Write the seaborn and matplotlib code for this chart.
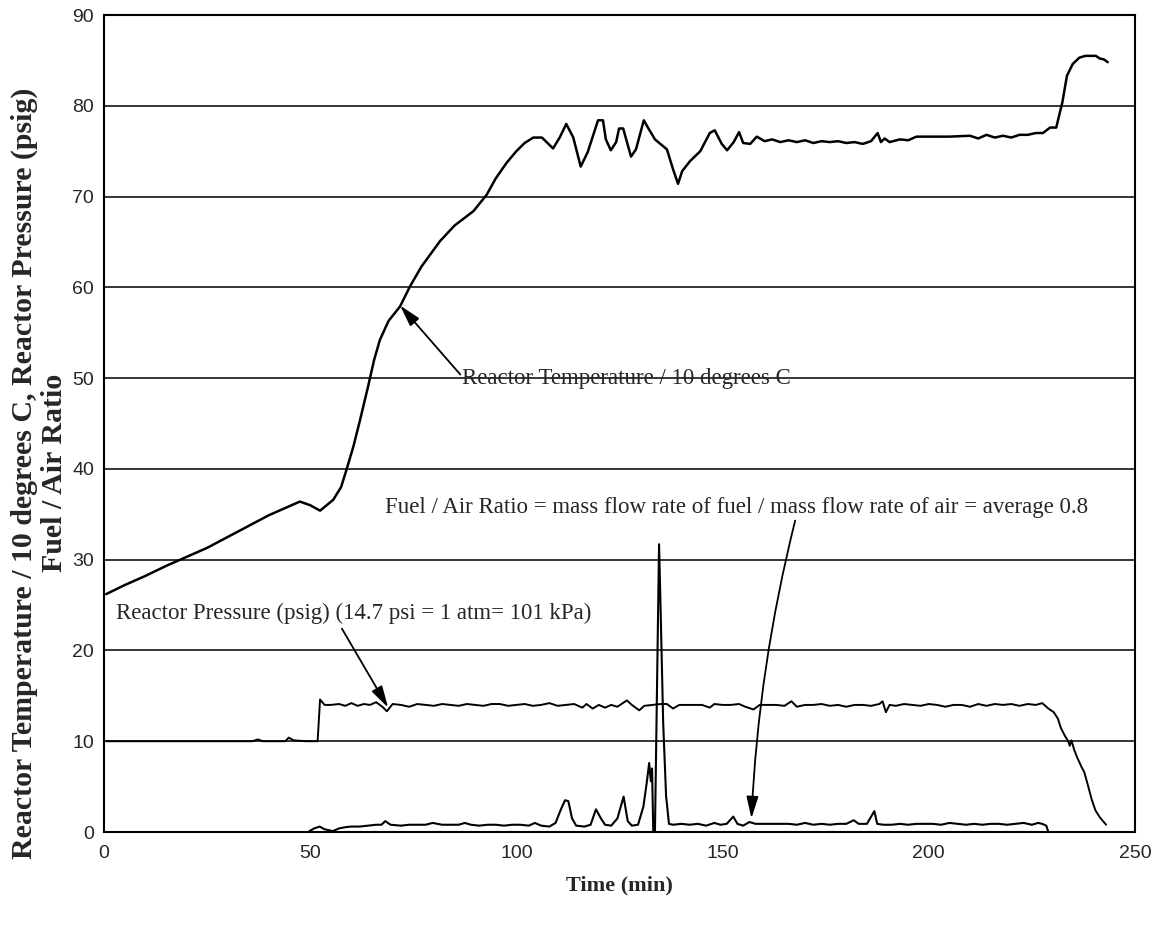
"""Reactor temperature, pressure and fuel/air ratio vs time."""

import matplotlib

matplotlib.use("Agg")
import matplotlib.pyplot as plt
import pandas as pd
import seaborn as sns

# --- data --------------------------------------------------------------------
temp_time = [
    0.5, 5, 10, 15, 20, 25, 30, 35, 40, 44, 47.5, 50, 52.4, 55.6, 57.5, 58.8,
    60.5, 62.1, 64, 65.5, 66.9, 69, 71.8, 74.2, 77, 81.5, 85, 89.6, 92.8, 95,
    97.6, 100, 102, 104.1, 106.2, 108.9, 110.5, 112.1, 113.8, 115.6, 117.3,
    119.8, 121.0, 121.7, 122.9, 124.2, 124.9, 125.9, 127.8, 129.0, 130.9,
    131.9, 133.6, 136.5, 138, 139.2, 140.2, 142.1, 144.6, 146.9, 148.1, 149.8,
    151.1, 152.7, 154.0, 155.0, 156.7, 158.3, 160.2, 162, 164, 166, 168, 170,
    172, 174, 176, 178, 180, 182, 184, 186, 187.6, 188.4, 189.3, 190.5, 193,
    195, 197, 199.4, 205, 210, 212, 214, 216, 218, 220, 222, 224, 226, 227.7,
    229.4, 230.9, 232.4, 233.5, 234.9, 236.5, 238, 240.5, 241.5, 242.5, 243.4,
]
temp_val = [
    26.2, 27.2, 28.2, 29.3, 30.3, 31.3, 32.5, 33.7, 34.9, 35.7, 36.4, 36.0,
    35.4, 36.6, 38.0, 39.9, 42.5, 45.4, 49.0, 52.0, 54.2, 56.3, 57.9, 60.1,
    62.3, 65.1, 66.8, 68.4, 70.2, 72.0, 73.7, 75.0, 75.9, 76.5, 76.5, 75.3,
    76.5, 78.0, 76.5, 73.3, 74.9, 78.4, 78.4, 76.3, 75.1, 76.0, 77.5, 77.5,
    74.4, 75.2, 78.4, 77.6, 76.3, 75.2, 73.0, 71.4, 72.8, 73.9, 75.0, 77.0,
    77.3, 75.8, 75.1, 76.0, 77.1, 75.9, 75.8, 76.6, 76.1, 76.3, 76.0, 76.2,
    76.0, 76.2, 75.9, 76.1, 76.0, 76.1, 75.9, 76.0, 75.8, 76.1, 77.0, 76.0,
    76.4, 76.0, 76.3, 76.2, 76.6, 76.6, 76.6, 76.7, 76.4, 76.8, 76.5, 76.7,
    76.5, 76.8, 76.8, 77.0, 77.0, 77.6, 77.6, 80.4, 83.3, 84.6, 85.3, 85.5,
    85.5, 85.2, 85.1, 84.8,
]

press_time = [
    0.5, 10, 20, 30, 36, 37.3, 38.5, 44, 44.8, 46, 49, 51.8, 52.4, 53.5, 55,
    57, 58.5, 60, 61.5, 63, 64.5, 66, 67.5, 68.6, 70, 72, 74, 76, 78, 80, 82,
    84, 86, 88, 90, 92, 94, 96, 98, 100, 102, 104, 106, 108, 110, 112, 114,
    116, 117, 118.5, 120, 121.5, 123, 124.5, 126.8, 128, 129.8, 131, 133, 135,
    136.5, 138, 139.5, 141, 143, 145, 146.9, 148, 150, 152, 154, 155.5, 157.5,
    159, 161, 163, 165, 166.7, 168, 170, 172, 174, 176, 178, 180, 182, 184,
    186, 188, 188.8, 189.6, 190.5, 192, 194, 196, 198, 200, 202, 204, 206,
    208, 210, 212, 214, 216, 218, 220, 222, 224, 226, 227.5, 229, 230.3,
    231.3, 232, 233, 233.8, 234.2, 234.6, 235.3, 236, 237, 237.7, 238.5,
    239.5, 240.4, 241.5, 243,
]
press_val = [
    10.0, 10.0, 10.0, 10.0, 10.0, 10.2, 10.0, 10.0, 10.4, 10.1, 10.0, 10.0,
    14.6, 14.0, 14.0, 14.1, 13.9, 14.2, 13.9, 14.1, 14.0, 14.3, 13.8, 13.3,
    14.1, 14.0, 13.8, 14.1, 14.0, 13.9, 14.1, 14.0, 13.9, 14.1, 14.0, 13.9,
    14.1, 14.1, 13.9, 14.0, 14.1, 13.9, 14.0, 14.2, 13.9, 14.0, 14.1, 13.7,
    14.1, 13.6, 14.0, 13.7, 14.0, 13.8, 14.5, 14.0, 13.4, 13.9, 14.0, 14.1,
    14.1, 13.6, 14.0, 14.0, 14.0, 14.0, 13.7, 14.1, 14.0, 14.0, 14.1, 13.8,
    13.5, 14.0, 14.0, 14.0, 13.9, 14.4, 13.8, 14.0, 14.0, 14.1, 13.9, 14.0,
    13.8, 14.0, 14.0, 13.9, 14.1, 14.4, 13.2, 14.0, 13.9, 14.1, 14.0, 13.9,
    14.1, 14.0, 13.8, 14.0, 14.0, 13.8, 14.1, 13.9, 14.1, 14.0, 14.1, 13.9,
    14.1, 14.0, 14.2, 13.6, 13.2, 12.5, 11.5, 10.6, 10.0, 9.5, 10.1, 9.0,
    8.2, 7.2, 6.6, 5.3, 3.6, 2.4, 1.6, 0.8,
]

fuel_time = [
    49.8, 51.0, 52.3, 53.5, 55.5, 57.0, 58.8, 60, 62, 64, 66, 67.3, 68.2,
    69.5, 72, 74, 76, 78, 79.7, 82, 84, 86, 87.5, 89, 91, 93, 95, 97, 99, 101,
    103, 104.5, 106, 108, 109.5, 110.8, 111.8, 112.6, 113.5, 114.5, 116.5,
    118, 119.3, 120.5, 121.5, 123, 124.5, 126.0, 127, 128, 129.5, 130.8,
    131.6, 132.2, 132.6, 132.9, 133.2, 133.6, 134.6, 135.0, 135.6, 136.3,
    137.0, 138, 140, 142, 144, 146, 148, 149.5, 151, 152.6, 153.6, 155,
    156.5, 158, 160, 162, 164, 166, 168, 170, 172, 174, 176, 178, 180, 181.8,
    183, 185, 186.8, 187.5, 189, 191, 193, 195, 197, 199, 201, 203, 205, 207,
    209, 211, 213, 215, 217, 219, 221, 223, 225, 226.5, 227.5, 228.5, 229.0,
]
fuel_val = [
    0.1, 0.4, 0.6, 0.3, 0.1, 0.4, 0.55, 0.6, 0.6, 0.7, 0.8, 0.8, 1.2, 0.8,
    0.7, 0.8, 0.8, 0.8, 1.0, 0.8, 0.8, 0.8, 1.0, 0.8, 0.7, 0.8, 0.8, 0.7,
    0.8, 0.8, 0.7, 1.0, 0.7, 0.6, 1.0, 2.5, 3.5, 3.4, 1.5, 0.7, 0.6, 0.8,
    2.5, 1.5, 0.8, 0.7, 1.5, 3.9, 1.2, 0.7, 0.8, 2.8, 5.4, 7.6, 5.6, 7.0,
    0.0, 0.0, 31.7, 24.0, 12.0, 4.0, 0.9, 0.8, 0.9, 0.8, 0.9, 0.7, 1.0, 0.8,
    0.9, 1.7, 0.9, 0.7, 1.1, 0.9, 0.9, 0.9, 0.9, 0.9, 0.8, 1.0, 0.8, 0.9,
    0.8, 0.9, 0.9, 1.3, 0.9, 0.9, 2.3, 0.9, 0.8, 0.8, 0.9, 0.8, 0.9, 0.9,
    0.9, 0.8, 1.0, 0.9, 0.8, 0.9, 0.8, 0.9, 0.9, 0.8, 0.9, 1.0, 0.8, 1.0,
    0.9, 0.7, 0.0,
]

x_ticks = [0, 50, 100, 150, 200, 250]
y_ticks = [0, 10, 20, 30, 40, 50, 60, 70, 80, 90]

temp_label = "Reactor Temperature / 10 degrees C"
press_label = "Reactor Pressure (psig) (14.7 psi = 1 atm= 101 kPa)"
fuel_label = ("Fuel / Air Ratio = mass flow rate of fuel / mass flow rate "
              "of air = average 0.8")
y_label = ("Reactor Temperature / 10 degrees C, Reactor Pressure (psig)\n"
           "Fuel / Air Ratio")

# --- plot --------------------------------------------------------------------
sns.set_theme(style="white")
plt.rcParams["font.family"] = ["Liberation Serif", "DejaVu Serif"]

fig = plt.figure(figsize=(11.63, 9.26), dpi=100)
ax = fig.add_axes([0.0894, 0.1015, 0.8865, 0.8823])

series = [
    (temp_time, temp_val, 1.8),
    (press_time, press_val, 1.4),
    (fuel_time, fuel_val, 1.5),
]
for t, v, lw in series:
    df = pd.DataFrame({"t": t, "v": v})
    sns.lineplot(data=df, x="t", y="v", color="black", linewidth=lw,
                 estimator=None, sort=False, ax=ax)

ax.set_xlim(0, 250)
ax.set_ylim(0, 90)
ax.set_xticks(x_ticks)
ax.set_yticks(y_ticks)
ax.yaxis.grid(True, color="black", linewidth=1.1)
ax.xaxis.grid(False)
ax.set_axisbelow(True)
for s in ax.spines.values():
    s.set_color("black")
    s.set_linewidth(1.5)
ax.tick_params(axis="both", direction="out", length=5, width=1,
               color="black", labelsize=14)
ax.tick_params(axis="y", pad=2)
ax.tick_params(axis="x", pad=4)
for lab in ax.get_xticklabels() + ax.get_yticklabels():
    lab.set_family("Liberation Sans")

ax.set_xlabel("Time (min)", fontsize=16, fontweight="bold", labelpad=10)
ax.set_ylabel("")
fig.text(0.034, 0.489, y_label, rotation=90, ha="center", va="center",
         multialignment="center", fontsize=21.5, fontweight="bold",
         linespacing=1.15)

arrow = dict(arrowstyle="-|>,head_length=1.1,head_width=0.3",
             color="black", lw=1.3, shrinkA=0, shrinkB=0)
ann_size = 16.5
ax.text(86.8, 50.0, temp_label, fontsize=ann_size, va="center", ha="left")
ax.annotate("", xy=(71.8, 58.0), xytext=(86.4, 50.4), arrowprops=arrow)
ax.text(2.9, 24.1, press_label, fontsize=ann_size, va="center", ha="left")
ax.annotate("", xy=(68.9, 13.7), xytext=(57.7, 22.4), arrowprops=arrow)
ax.text(68.1, 35.7, fuel_label, fontsize=ann_size, va="center", ha="left")
ax.annotate("", xy=(157.0, 1.5), xytext=(167.6, 34.3),
            arrowprops=dict(arrow, connectionstyle="arc3,rad=0.05"))

fig.savefig("out.png", dpi=100)
plt.close(fig)
